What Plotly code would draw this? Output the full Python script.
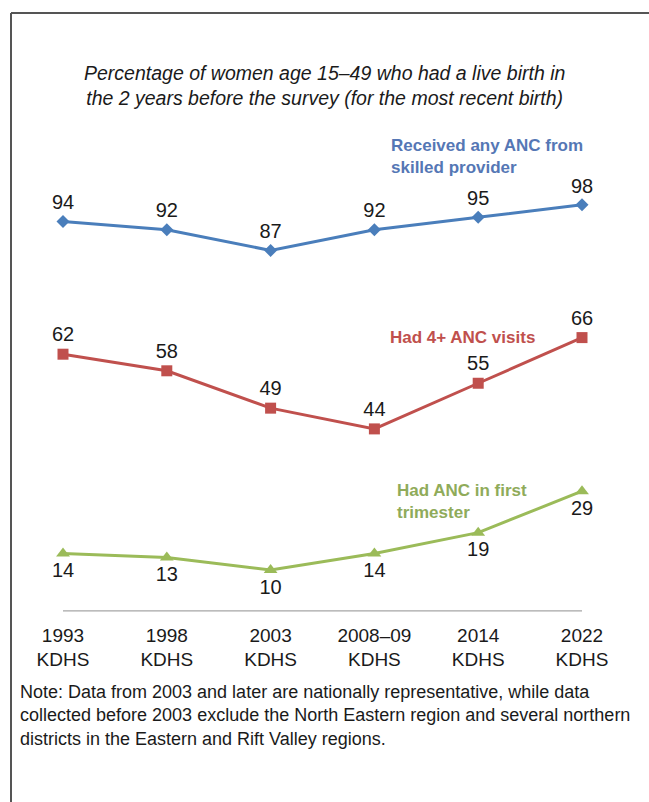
import plotly.graph_objects as go

surveys = ["1993<br>KDHS", "1998<br>KDHS", "2003<br>KDHS", "2008–09<br>KDHS", "2014<br>KDHS", "2022<br>KDHS"]
any_anc_skilled = [94, 92, 87, 92, 95, 98]
anc_4plus = [62, 58, 49, 44, 55, 66]
anc_first_trimester = [14, 13, 10, 14, 19, 29]

BLUE = "#4a7ebb"
RED = "#c0504d"
GREEN = "#9bbb59"
FONT = "Liberation Sans Narrow, Arial Narrow, Liberation Sans, Arial, sans-serif"

W, H = 649, 802
x = list(range(len(surveys)))

fig = go.Figure()

series = [
    (any_anc_skilled, BLUE, "diamond", 10, "top center"),
    (anc_4plus, RED, "square", 11, "top center"),
    (anc_first_trimester, GREEN, "triangle-up", 12, "bottom center"),
]
for vals, color, symbol, msize, tpos in series:
    fig.add_trace(go.Scatter(
        x=x, y=vals, mode="lines+markers+text",
        line=dict(color=color, width=3),
        marker=dict(color=color, symbol=symbol, size=msize),
        text=[str(v) for v in vals], textposition=tpos,
        textfont=dict(family=FONT, size=20, color="#1a1a1a"),
        cliponaxis=False, showlegend=False, hoverinfo="skip",
    ))

# Baseline under the series, spanning first to last survey
fig.add_shape(type="line", xref="x", yref="y", x0=0, x1=len(surveys) - 1, y0=0, y1=0,
              line=dict(color="#a6a6a6", width=2.5))

# Frame edges (top and left)
fx, fy = 11 / W, 1 - 13 / H
fig.add_shape(type="line", xref="paper", yref="paper", x0=fx, x1=1.0, y0=fy, y1=fy,
              line=dict(color="#555555", width=2))
fig.add_shape(type="line", xref="paper", yref="paper", x0=fx, x1=fx, y0=fy, y1=0.0,
              line=dict(color="#555555", width=2))


def py(pix):
    return 1 - pix / H


ann = []
# Title
ann.append(dict(x=324 / W, y=py(86), xref="paper", yref="paper", xanchor="center", yanchor="middle",
                text="<i>Percentage of women age 15–49 who had a live birth in<br>the 2 years before the survey (for the most recent birth)</i>",
                showarrow=False, font=dict(family=FONT, size=19.5, color="#1a1a1a"), align="center"))
# Series labels
ann.append(dict(x=389 / W, y=py(156), xref="paper", yref="paper", xanchor="left", yanchor="middle",
                text="<b>Received any ANC from<br>skilled provider</b>", showarrow=False, align="left",
                font=dict(family=FONT, size=17, color="#5577b5")))
ann.append(dict(x=388 / W, y=py(337), xref="paper", yref="paper", xanchor="left", yanchor="middle",
                text="<b>Had 4+ ANC visits</b>", showarrow=False, align="left",
                font=dict(family=FONT, size=17, color=RED)))
ann.append(dict(x=395 / W, y=py(501), xref="paper", yref="paper", xanchor="left", yanchor="middle",
                text="<b>Had ANC in first<br>trimester</b>", showarrow=False, align="left",
                font=dict(family=FONT, size=17, color="#8fab5a")))
# Note
ann.append(dict(x=18 / W, y=py(715), xref="paper", yref="paper", xanchor="left", yanchor="middle",
                text="Note: Data from 2003 and later are nationally representative, while data<br>"
                     "collected before 2003 exclude the North Eastern region and several northern<br>"
                     "districts in the Eastern and Rift Valley regions.",
                showarrow=False, align="left", font=dict(family=FONT, size=18, color="#1a1a1a")))

px_per_cat = (582 - 63) / 5
px_per_pct = 4.15
axis_y = 611.5

fig.update_layout(
    width=W, height=H,
    margin=dict(l=0, r=0, t=0, b=0),
    paper_bgcolor="white", plot_bgcolor="white",
    xaxis=dict(range=[-63 / px_per_cat, 5 + (W - 582) / px_per_cat],
               tickvals=x, ticktext=surveys, showgrid=False, zeroline=False, showline=False,
               ticks="", ticklabelstandoff=10,
               tickfont=dict(family=FONT, size=19, color="#1a1a1a")),
    yaxis=dict(domain=[1 - axis_y / H, 1], range=[0, axis_y / px_per_pct],
               showgrid=False, zeroline=False, showline=False, showticklabels=False),
    annotations=ann,
)

fig.write_html("out.html")
